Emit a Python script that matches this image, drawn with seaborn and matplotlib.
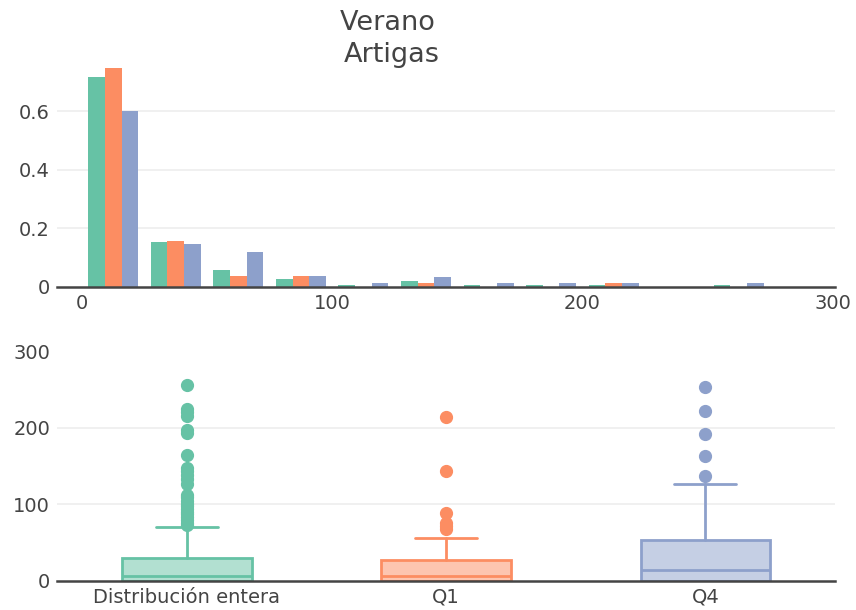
import pandas as pd
import numpy as np
import matplotlib
matplotlib.use("Agg")
import matplotlib.pyplot as plt
import seaborn as sns

# groups and colours (Set2)
grupos = ["Distribución entera", "Q1", "Q4"]
colores = ["#66c2a5", "#fc8d62", "#8da0cb"]

# histogram: bins of 25 from 0 to 300, probability per bin
ancho_bin = 25
rango_bins = (0, 300)
prob_entera = [0.716, 0.153, 0.057, 0.028, 0.008, 0.020, 0.008, 0.008, 0.008, 0.0, 0.008, 0.0]
prob_q1 = [0.748, 0.158, 0.036, 0.036, 0.0, 0.014, 0.0, 0.0, 0.014, 0.0, 0.0, 0.0]
prob_q4 = [0.602, 0.146, 0.121, 0.036, 0.014, 0.035, 0.014, 0.014, 0.014, 0.0, 0.014, 0.0]

# box plot summaries
box_q1 = [0, 0, 0]
box_med = [7, 6, 14]
box_q3 = [30, 27, 53]
box_whislo = [0, 0, 0]
box_whishi = [70, 56, 127]
outliers_entera = [73, 76, 79, 83, 87, 90, 94, 98, 101, 105, 109, 112, 127, 133,
                   138, 143, 147, 165, 193, 197, 215, 221, 225, 256]
outliers_q1 = [68, 72, 76, 89, 144, 214]
outliers_q4 = [137, 163, 192, 222, 253]

sns.set_theme(style="white")
plt.rcParams["font.family"] = ["DejaVu Sans"]
gris = "#444444"

W, H = 856, 610
fig = plt.figure(figsize=(W / 100, H / 100), dpi=100)


def px_axes(x0, y0, x1, y1):
    return fig.add_axes([x0 / W, 1 - y1 / H, (x1 - x0) / W, (y1 - y0) / H])


# ---- top: grouped histogram ----
n_bins = len(prob_entera)
centros = rango_bins[0] + ancho_bin * (np.arange(n_bins) + 0.5)
df = pd.DataFrame({
    "centro": np.tile(centros, 3),
    "valor": prob_entera + prob_q1 + prob_q4,
    "grupo": np.repeat(grupos, n_bins),
})

ax1 = px_axes(57, 56.5, 835, 287)
sns.histplot(data=df, x="centro", weights="valor", hue="grupo", hue_order=grupos,
             palette=colores, binwidth=ancho_bin, binrange=rango_bins,
             multiple="dodge", shrink=0.8, alpha=1, linewidth=0,
             legend=False, ax=ax1)
ax1.set_xlim(-10, 301)
ax1.set_ylim(0, 0.787)
ax1.set_xticks([0, 100, 200, 300])
ax1.set_xticklabels(["0", "100", "200", "300"])
ax1.set_yticks([0, 0.2, 0.4, 0.6])
ax1.set_yticklabels(["0", "0.2", "0.4", "0.6"])

# ---- bottom: box plots ----
ax2 = px_axes(57, 351, 835, 581)
fliers = [outliers_entera, outliers_q1, outliers_q4]
for i, g in enumerate(grupos):
    c = colores[i]
    s = dict(label=g, q1=box_q1[i], med=box_med[i], q3=box_q3[i],
             whislo=box_whislo[i], whishi=box_whishi[i], fliers=fliers[i])
    ax2.bxp([s], positions=[i], widths=0.5, capwidths=0.24, patch_artist=True,
            boxprops=dict(facecolor=matplotlib.colors.to_rgba(c, 0.5), edgecolor=c, linewidth=2),
            medianprops=dict(color=c, linewidth=2),
            whiskerprops=dict(color=c, linewidth=2),
            capprops=dict(color=c, linewidth=2),
            flierprops=dict(marker="o", markerfacecolor=c, markeredgecolor=c,
                            markersize=8.5, linestyle="none"))
ax2.set_xlim(-0.5, 2.5)
ax2.set_ylim(0, 300)
ax2.set_xticks([0, 1, 2])
ax2.set_xticklabels(grupos)
ax2.set_yticks([0, 100, 200, 300])

for ax in (ax1, ax2):
    ax.set_xlabel("")
    ax.set_ylabel("")
    for sp in ("top", "right", "left"):
        ax.spines[sp].set_visible(False)
    ax.spines["bottom"].set_color(gris)
    ax.spines["bottom"].set_linewidth(1.8)
    ax.spines["bottom"].set_zorder(5)
    ax.tick_params(axis="both", length=0, labelsize=14, labelcolor=gris, pad=5)
    ax.yaxis.grid(True, color="#eeeeee", linewidth=1.2)
    ax.set_axisbelow(True)
    ylo, yhi = ax.get_ylim()
    for line, t in zip(ax.get_ygridlines(), ax.get_yticks()):
        if t <= ylo or t >= yhi:
            line.set_visible(False)

fig.text(392 / W, 1 - 39 / H, "Verano \nArtigas", ha="center", va="center",
         fontsize=19.5, color=gris, linespacing=1.35)

fig.savefig("out.png", dpi=100)
